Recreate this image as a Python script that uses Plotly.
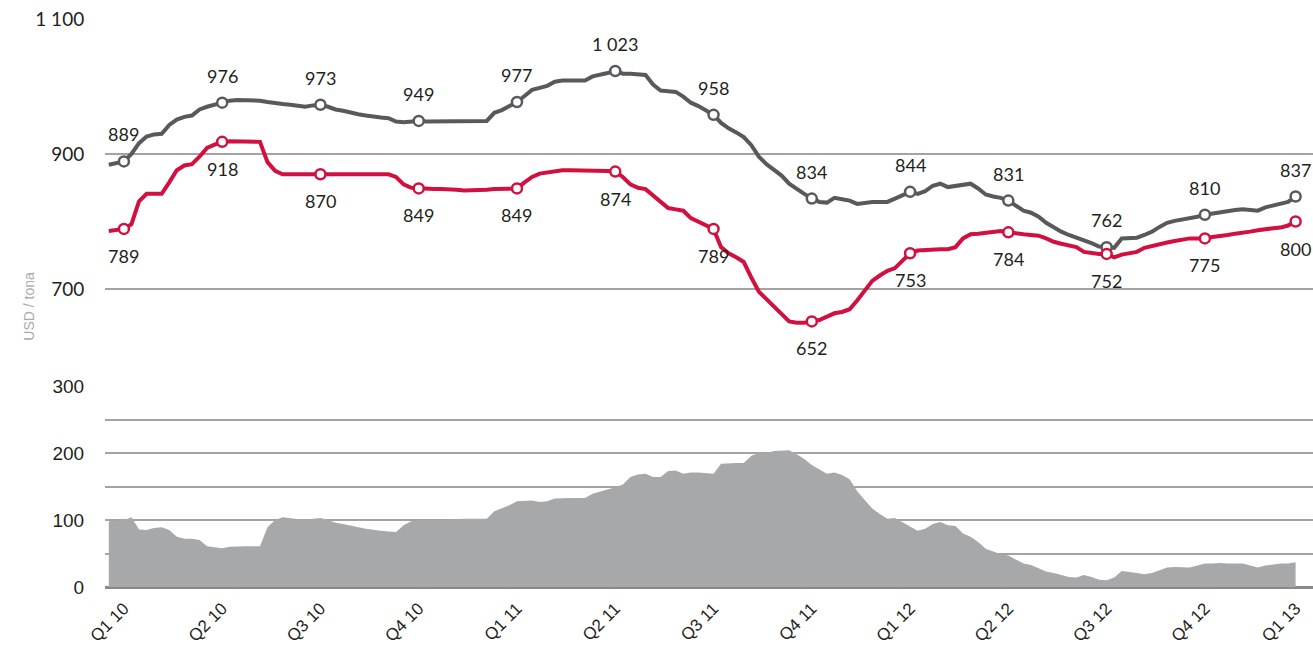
import plotly.graph_objects as go

# Weekly prices (USD / tona), week 0 = two weeks before Q1 10
price_high = [
    884, 886, 889, 900, 916, 926, 929, 930, 943, 951, 955, 957, 966, 970, 973, 976,
    979, 980, 980, 980, 979, 977, 975, 974, 973, 971, 970, 972, 973, 970, 966, 964,
    961, 959, 957, 955, 954, 953, 948, 947, 948, 949, 948, 948, 948, 948, 948, 948,
    948, 948, 949, 961, 965, 971, 977, 986, 995, 998, 1001, 1007, 1009, 1009, 1009, 1009,
    1015, 1017, 1020, 1023, 1019, 1019, 1018, 1017, 1003, 994, 993, 992, 985, 976, 971, 965,
    958, 946, 938, 932, 925, 913, 896, 885, 877, 868, 856, 848, 841, 834, 829, 828,
    835, 833, 831, 826, 828, 829, 829, 829, 834, 839, 844, 841, 845, 853, 856, 851,
    853, 855, 856, 849, 840, 837, 835, 831, 823, 816, 813, 807, 798, 791, 785, 780,
    776, 773, 768, 763, 762, 761, 775, 776, 776, 780, 785, 792, 798, 801, 803, 804,
    807, 810, 812, 814, 815, 817, 818, 817, 816, 821, 824, 826, 829, 837,
]
price_low = [
    786, 787, 789, 796, 830, 841, 841, 841, 858, 876, 883, 885, 896, 909, 914, 918,
    919, 919, 919, 919, 918, 888, 875, 870, 870, 870, 870, 870, 870, 870, 870, 870,
    870, 870, 870, 870, 870, 870, 866, 855, 850, 849, 848, 848, 848, 848, 847, 846,
    846, 847, 847, 848, 848, 849, 849, 858, 866, 871, 873, 875, 876, 876, 876, 876,
    876, 875, 875, 874, 866, 855, 850, 848, 839, 830, 820, 818, 816, 805, 800, 795,
    789, 762, 753, 747, 740, 717, 696, 685, 674, 665, 652, 650, 650, 652, 654, 659,
    664, 666, 670, 683, 698, 712, 720, 727, 731, 742, 753, 757, 758, 759, 759, 759,
    762, 775, 781, 782, 783, 784, 786, 784, 782, 781, 780, 779, 775, 770, 767, 765,
    762, 755, 753, 752, 752, 747, 751, 753, 755, 761, 764, 767, 769, 771, 773, 775,
    775, 775, 777, 778, 780, 782, 783, 785, 787, 789, 790, 791, 794, 800,
]
weeks = list(range(len(price_high)))

# Spread between the two series, shown as the grey area
spread = [h - l for h, l in zip(price_high, price_low)]

quarter_weeks = [2, 15, 28, 41, 54, 67, 80, 93, 106, 119, 132, 145, 157]
quarter_labels = ["Q1 10", "Q2 10", "Q3 10", "Q4 10", "Q1 11", "Q2 11", "Q3 11",
                  "Q4 11", "Q1 12", "Q2 12", "Q3 12", "Q4 12", "Q1 13"]

upper_ticks = [700, 900, 1100]
lower_ticks = [0, 50, 100, 150, 200, 250, 300]

GREY_LINE = "#58595b"
RED_LINE = "#d2103f"
AREA = "#a7a8aa"
GRID = "#a3a3a3"
TEXT = "#231f20"
LABEL_FONT = "Lato"
SANS = "Liberation Sans"


def fmt(v):
    return f"{v:,}".replace(",", " ")


fig = go.Figure()

fig.add_trace(go.Scatter(
    x=weeks, y=spread, yaxis="y", mode="lines", fill="tozeroy",
    fillcolor=AREA, line=dict(width=0, color=AREA), hoverinfo="skip",
))

for series, color in ((price_high, GREY_LINE), (price_low, RED_LINE)):
    fig.add_trace(go.Scatter(
        x=weeks, y=series, yaxis="y2", mode="lines",
        line=dict(color=color, width=4), hoverinfo="skip",
    ))
    fig.add_trace(go.Scatter(
        x=quarter_weeks, y=[series[w] for w in quarter_weeks], yaxis="y2",
        mode="markers",
        marker=dict(size=10, color="white", line=dict(color=color, width=2.5)),
        hoverinfo="skip",
    ))

annotations = []
for w in quarter_weeks:
    annotations.append(dict(x=w, y=price_high[w], xref="x", yref="y2",
                            text=fmt(price_high[w]), showarrow=False, yshift=27,
                            font=dict(family=LABEL_FONT, size=18, color=TEXT)))
    annotations.append(dict(x=w, y=price_low[w], xref="x", yref="y2",
                            text=fmt(price_low[w]), showarrow=False, yshift=-27,
                            font=dict(family=LABEL_FONT, size=18, color=TEXT)))

annotations.append(dict(x=-0.071, y=0.494, xref="paper", yref="paper",
                        text="USD / tona", textangle=-90, showarrow=False,
                        font=dict(family=SANS, size=14, color="#aaaaaa")))

lower_top = (587 - 386) / 568

fig.update_layout(
    width=1313, height=651,
    margin=dict(l=105, r=0, t=19, b=64, autoexpand=False),
    paper_bgcolor="white", plot_bgcolor="white",
    showlegend=False,
    annotations=annotations,
    xaxis=dict(
        range=[-0.5, 159.3], showgrid=False, zeroline=False, showline=False,
        tickmode="array", tickvals=quarter_weeks, ticktext=quarter_labels,
        tickangle=-45, ticks="outside", ticklen=4, tickcolor="rgba(0,0,0,0)",
        tickfont=dict(family=SANS, size=17, color=TEXT), anchor="y",
        automargin=False,
    ),
    yaxis=dict(
        domain=[0, lower_top], range=[0, 300], tickmode="array",
        tickvals=lower_ticks,
        ticktext=[str(v) if v % 100 == 0 else "" for v in lower_ticks],
        showgrid=True, gridcolor=GRID, gridwidth=1.5,
        zeroline=True, zerolinecolor="#8a8a8a", zerolinewidth=2.5,
        ticks="outside", ticklen=16, tickcolor="rgba(0,0,0,0)",
        tickfont=dict(family=SANS, size=19, color=TEXT), anchor="x",
        automargin=False,
    ),
    yaxis2=dict(
        domain=[lower_top, 1], range=[556.3, 1100], tickmode="array",
        tickvals=upper_ticks, ticktext=[fmt(v) for v in upper_ticks],
        showgrid=True, gridcolor=GRID, gridwidth=1.5, zeroline=False,
        ticks="outside", ticklen=16, tickcolor="rgba(0,0,0,0)",
        tickfont=dict(family=LABEL_FONT, size=19, color=TEXT), anchor="x",
        automargin=False,
    ),
)

fig.write_html("out.html")
